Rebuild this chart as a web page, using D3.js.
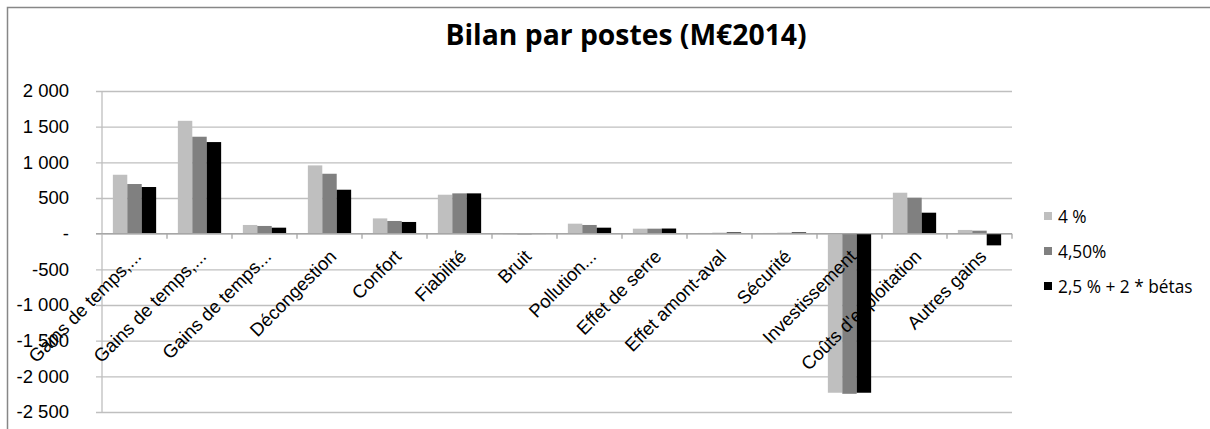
<!DOCTYPE html>
<html>
<head>
<meta charset="utf-8">
<script src="https://cdn.jsdelivr.net/npm/d3@7"></script>
<style>
  body { margin: 0; background: #fff; }
  svg { display: block; font-family: "Open Sans", "Noto Sans", sans-serif; }
</style>
</head>
<body>
<div id="chart"></div>
<script>
var categories = ["Gains de temps,...", "Gains de temps,...", "Gains de temps...", "Décongestion", "Confort",
  "Fiabilité", "Bruit", "Pollution...", "Effet de serre", "Effet amont-aval", "Sécurité",
  "Investissement", "Coûts d'exploitation", "Autres gains"];
var seriesNames = ["4 %", "4,50%", "2,5 % + 2 * bétas"];
var serie4 = [826, 1582, 122, 957, 214, 546, -10, 140, 70, 10, 10, -2230, 574, 52];
var serie45 = [696, 1359, 108, 840, 178, 565, -10, 122, 70, 12, 12, -2245, 504, 42];
var serieBeta = [654, 1284, 84, 616, 164, 565, -5, 84, 72, 18, 18, -2230, 294, -164];
var yTicks = [2000, 1500, 1000, 500, 0, -500, -1000, -1500, -2000, -2500];
var colors = ["#bfbfbf", "#808080", "#000000"];

var W = 1210, H = 429;
var margin = {top: 91, left: 102, right: 198, bottom: 17};
var width = W - margin.left - margin.right;
var height = H - margin.top - margin.bottom;

var svg = d3.select('#chart').append('svg').attr('width', W).attr('height', H);

// chart area border
svg.append('rect')
  .attr('x', 7.5).attr('y', 7.5).attr('width', W + 10).attr('height', H + 10)
  .attr('fill', 'none').attr('stroke', '#878787').attr('stroke-width', 1.5);

svg.append('text')
  .attr('x', 626).attr('y', 45)
  .attr('text-anchor', 'middle')
  .attr('font-size', 28.3).attr('font-weight', 'bold')
  .attr('fill', '#000')
  .text('Bilan par postes (M€2014)');

var plot = svg.append('g').attr('transform', `translate(${margin.left},${margin.top})`);

var data = categories.map(function(c, i) {
  return {cat: i, values: [serie4[i], serie45[i], serieBeta[i]]};
});

var x0 = d3.scaleBand().domain(d3.range(categories.length)).range([0, width]).paddingInner(0).paddingOuter(0);
var x1 = d3.scaleBand().domain([0, 1, 2]).range([x0.bandwidth() * 0.167, x0.bandwidth() * 0.833]);
var y = d3.scaleLinear().domain([-2500, 2000]).range([height, 0]);

var fmt = function(v) {
  if (v === 0) return '-';
  var s = d3.format(',')(Math.abs(v)).replace(/,/g, '\u00a0');
  return (v < 0 ? '-' : '') + s;
};

// gridlines + y axis
var yAxis = d3.axisLeft(y).tickValues(yTicks).tickSize(-width).tickFormat(fmt);
var gy = plot.append('g').attr('class', 'y-axis').call(yAxis);
gy.select('.domain').remove();
gy.selectAll('.tick line').attr('x1', -6).attr('stroke', '#bfbfbf').attr('stroke-width', 1.3);
gy.selectAll('.tick text').attr('font-size', 18.5).attr('fill', '#000').attr('x', -33);

plot.append('line')
  .attr('x1', 0).attr('x2', 0).attr('y1', 0).attr('y2', height)
  .attr('stroke', '#bfbfbf').attr('stroke-width', 1.3);

// bars
var groups = plot.selectAll('.g-comp')
  .data(data).enter().append('g')
  .attr('class', 'g-comp')
  .attr('transform', function(d) { return `translate(${x0(d.cat)},0)`; });

groups.selectAll('rect')
  .data(function(d) { return d.values; })
  .enter().append('rect')
  .attr('x', function(d, i) { return x1(i); })
  .attr('width', x1.bandwidth())
  .attr('y', function(d) { return y(Math.max(0, d)); })
  .attr('height', function(d) { return Math.abs(y(d) - y(0)); })
  .attr('fill', function(d, i) { return colors[i]; });

// category axis at zero
var xAxis = d3.axisBottom(x0).tickSize(0).tickFormat(function(i) { return categories[i]; });
var gx = plot.append('g').attr('transform', `translate(0,${y(0)})`).call(xAxis);
gx.select('.domain').remove();
plot.append('line')
  .attr('x1', -6).attr('x2', width).attr('y1', y(0)).attr('y2', y(0))
  .attr('stroke', '#a6a6a6').attr('stroke-width', 1.3);
plot.selectAll('.x-tick-mark')
  .data(d3.range(1, categories.length + 1)).enter().append('line')
  .attr('x1', function(i) { return i * x0.step(); })
  .attr('x2', function(i) { return i * x0.step(); })
  .attr('y1', y(0)).attr('y2', y(0) + 5)
  .attr('stroke', '#a6a6a6').attr('stroke-width', 1.3);

gx.selectAll('.tick text')
  .attr('font-size', 18.5).attr('fill', '#000')
  .attr('text-anchor', 'end')
  .attr('x', 0).attr('y', 0).attr('dy', 0)
  .attr('transform', `translate(8,24) rotate(-45)`);

// legend
var legend = svg.append('g').attr('transform', 'translate(1044,212)');
seriesNames.forEach(function(name, i) {
  var row = legend.append('g').attr('transform', `translate(0,${i * 35})`);
  row.append('rect').attr('x', 0).attr('y', 0).attr('width', 8).attr('height', 8).attr('fill', colors[i]);
  row.append('text').attr('x', 14).attr('y', 11).attr('font-size', 17.3).attr('fill', '#000').text(name);
});
</script>
</body>
</html>
